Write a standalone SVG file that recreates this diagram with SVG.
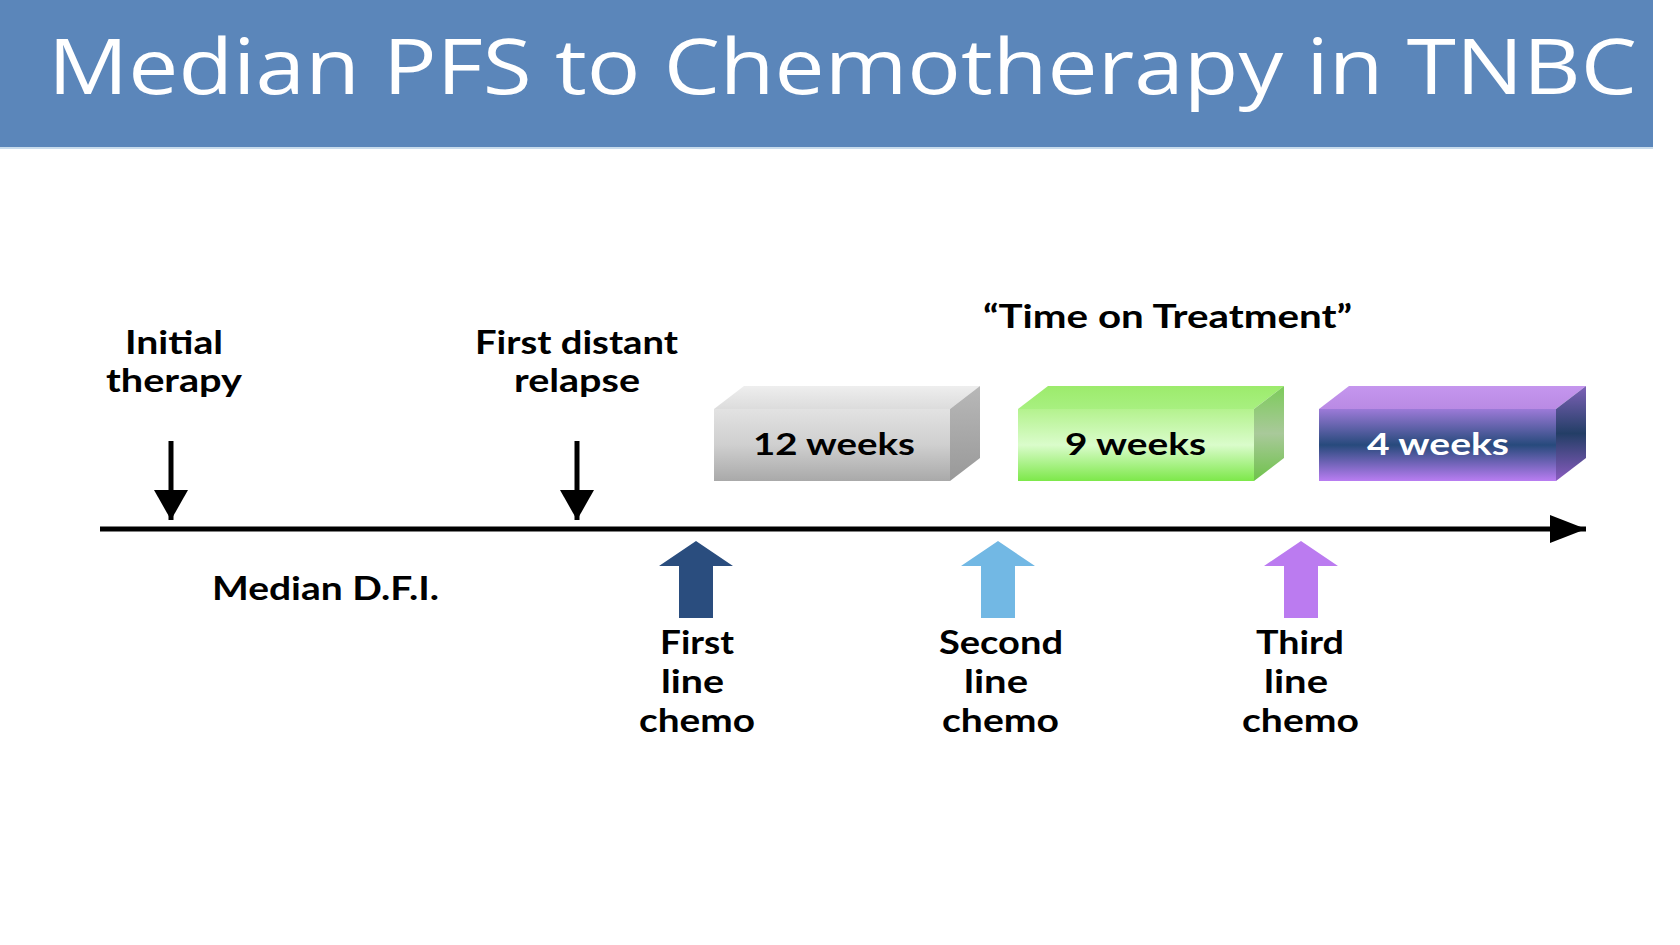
<svg xmlns="http://www.w3.org/2000/svg" width="1680" height="945" viewBox="0 0 1680 945">
<style>
.t{font-family:Lato,"Open Sans","Liberation Sans",sans-serif;font-weight:bold;font-size:32px;fill:#000}
.w{font-family:Lato,"Open Sans","Liberation Sans",sans-serif;font-weight:bold;font-size:31px}
</style>
<defs>
<linearGradient id="gF" x1="0" y1="0" x2="0" y2="1"><stop offset="0" stop-color="#E2E2E2"/><stop offset="0.5" stop-color="#CFCFCF"/><stop offset="1" stop-color="#A9A9A9"/></linearGradient>
<linearGradient id="gT" x1="0" y1="0" x2="0" y2="1"><stop offset="0" stop-color="#EEEEEE"/><stop offset="1" stop-color="#DCDCDC"/></linearGradient>
<linearGradient id="gS" x1="0" y1="0" x2="0" y2="1"><stop offset="0" stop-color="#B8B8B8"/><stop offset="1" stop-color="#999999"/></linearGradient>
<linearGradient id="nF" x1="0" y1="0" x2="0" y2="1"><stop offset="0" stop-color="#B4F28E"/><stop offset="0.5" stop-color="#DAFCCB"/><stop offset="1" stop-color="#7DE84A"/></linearGradient>
<linearGradient id="nT" x1="0" y1="0" x2="0" y2="1"><stop offset="0" stop-color="#9CEB6C"/><stop offset="1" stop-color="#A8F080"/></linearGradient>
<linearGradient id="nS" x1="0" y1="0" x2="0" y2="1"><stop offset="0" stop-color="#7CCB5A"/><stop offset="0.5" stop-color="#A9C99A"/><stop offset="1" stop-color="#6EC24A"/></linearGradient>
<linearGradient id="pF" x1="0" y1="0" x2="0" y2="1"><stop offset="0" stop-color="#9C7AD8"/><stop offset="0.5" stop-color="#274A7C"/><stop offset="1" stop-color="#B97DF2"/></linearGradient>
<linearGradient id="pT" x1="0" y1="0" x2="0" y2="1"><stop offset="0" stop-color="#C596EE"/><stop offset="1" stop-color="#B98AE4"/></linearGradient>
<linearGradient id="pS" x1="0" y1="0" x2="0" y2="1"><stop offset="0" stop-color="#7E62B8"/><stop offset="0.5" stop-color="#233E66"/><stop offset="1" stop-color="#8A5CC0"/></linearGradient>
<marker id="ah" markerUnits="userSpaceOnUse" markerWidth="36" markerHeight="28" refX="36" refY="14" orient="auto"><path d="M0,0 L36,14 L0,28 Z" fill="#000"/></marker>
<marker id="dh" markerUnits="userSpaceOnUse" markerWidth="30" markerHeight="34" refX="30" refY="17" orient="auto"><path d="M0,0 L30,17 L0,34 Z" fill="#000"/></marker>
</defs>
<rect width="1680" height="945" fill="#FFFFFF"/>
<g id="header">
<rect x="0" y="0" width="1653" height="148" fill="#5B86BA"/>
<rect x="0" y="147" width="1653" height="2" fill="#C9DCEC"/>
<text x="48" y="94" font-family="'Open Sans','Liberation Sans',sans-serif" font-size="77" fill="#FFFFFF" textLength="1589" lengthAdjust="spacingAndGlyphs">Median PFS to Chemotherapy in TNBC</text>
</g>
<g id="connectors">
<line x1="100" y1="529" x2="1586" y2="529" stroke="#000" stroke-width="5" marker-end="url(#ah)"/>
<line x1="171" y1="441" x2="171" y2="520" stroke="#000" stroke-width="5" marker-end="url(#dh)"/>
<line x1="577" y1="441" x2="577" y2="520" stroke="#000" stroke-width="5" marker-end="url(#dh)"/>
</g>
<g id="initial-therapy">
<text class="t" x="125" y="354" textLength="98" lengthAdjust="spacingAndGlyphs">Initial</text>
<text class="t" x="106" y="392" textLength="136" lengthAdjust="spacingAndGlyphs">therapy</text>
</g>
<g id="first-distant-relapse">
<text class="t" x="475" y="354" textLength="203" lengthAdjust="spacingAndGlyphs">First distant</text>
<text class="t" x="514" y="392" textLength="126" lengthAdjust="spacingAndGlyphs">relapse</text>
</g>
<g id="median-dfi">
<text class="t" x="212" y="600" textLength="227" lengthAdjust="spacingAndGlyphs">Median D.F.I.</text>
</g>
<g id="time-on-treatment">
<text class="t" x="983" y="328" textLength="369" lengthAdjust="spacingAndGlyphs">“Time on Treatment”</text>
</g>
<g id="box-12-weeks">
<polygon points="714,409 950,409 980,386 744,386" fill="url(#gT)"/>
<polygon points="950,409 980,386 980,458 950,481" fill="url(#gS)"/>
<rect x="714" y="409" width="236" height="72" fill="url(#gF)"/>
<text class="w" x="753" y="455" fill="#000" textLength="162" lengthAdjust="spacingAndGlyphs">12 weeks</text>
</g>
<g id="box-9-weeks">
<polygon points="1018,409 1254,409 1284,386 1048,386" fill="url(#nT)"/>
<polygon points="1254,409 1284,386 1284,458 1254,481" fill="url(#nS)"/>
<rect x="1018" y="409" width="236" height="72" fill="url(#nF)"/>
<text class="w" x="1065" y="455" fill="#000" textLength="141" lengthAdjust="spacingAndGlyphs">9 weeks</text>
</g>
<g id="box-4-weeks">
<polygon points="1319,409 1556,409 1586,386 1349,386" fill="url(#pT)"/>
<polygon points="1556,409 1586,386 1586,458 1556,481" fill="url(#pS)"/>
<rect x="1319" y="409" width="237" height="72" fill="url(#pF)"/>
<text class="w" x="1367" y="455" fill="#FFFFFF" textLength="142" lengthAdjust="spacingAndGlyphs">4 weeks</text>
</g>
<g id="first-line-chemo">
<polygon points="696,541 733,566 713,566 713,618 679,618 679,566 659,566" fill="#2A4D7E"/>
<text class="t" x="660" y="654" textLength="74" lengthAdjust="spacingAndGlyphs">First</text>
<text class="t" x="661" y="693" textLength="63" lengthAdjust="spacingAndGlyphs">line</text>
<text class="t" x="639" y="732" textLength="116" lengthAdjust="spacingAndGlyphs">chemo</text>
</g>
<g id="second-line-chemo">
<polygon points="998,541 1035,566 1015,566 1015,618 981,618 981,566 961,566" fill="#72B8E4"/>
<text class="t" x="939" y="654" textLength="124" lengthAdjust="spacingAndGlyphs">Second</text>
<text class="t" x="964" y="693" textLength="64" lengthAdjust="spacingAndGlyphs">line</text>
<text class="t" x="942" y="732" textLength="117" lengthAdjust="spacingAndGlyphs">chemo</text>
</g>
<g id="third-line-chemo">
<polygon points="1301,541 1338,566 1318,566 1318,618 1284,618 1284,566 1264,566" fill="#BB7BF0"/>
<text class="t" x="1256" y="654" textLength="88" lengthAdjust="spacingAndGlyphs">Third</text>
<text class="t" x="1264" y="693" textLength="64" lengthAdjust="spacingAndGlyphs">line</text>
<text class="t" x="1242" y="732" textLength="117" lengthAdjust="spacingAndGlyphs">chemo</text>
</g>
</svg>
